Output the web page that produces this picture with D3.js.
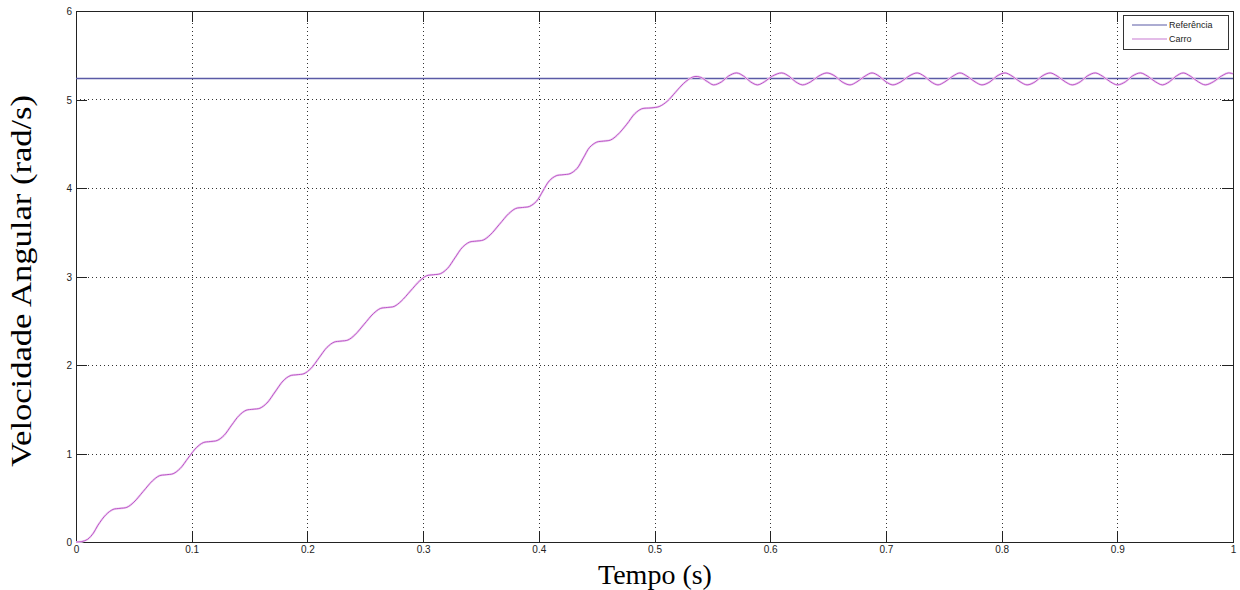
<!DOCTYPE html>
<html>
<head>
<meta charset="utf-8">
<script src="https://cdn.jsdelivr.net/npm/d3@7"></script>
<style>
  html, body { margin: 0; padding: 0; background: #fff; }
  svg { display: block; }
  .tick text { font-family: "Liberation Sans", Arial, sans-serif; font-size: 10px; fill: #222; }
</style>
</head>
<body>
<svg id="chart" width="1240" height="590"></svg>
<script>
// ---- data ----
const xTicks = [0, 0.1, 0.2, 0.3, 0.4, 0.5, 0.6, 0.7, 0.8, 0.9, 1];
const yTicks = [0, 1, 2, 3, 4, 5, 6];
const seriesNames = ["Referência", "Carro"];
const referenceValue = 5.236;

const carroTime = [
  0, 0.005, 0.010, 0.015, 0.019, 0.026,
  0.032, 0.038, 0.044, 0.050, 0.058, 0.066,
  0.072, 0.078, 0.084, 0.090, 0.097, 0.104,
  0.110, 0.116, 0.122, 0.128, 0.1345, 0.141,
  0.147, 0.153, 0.159, 0.165, 0.172, 0.179,
  0.185, 0.191, 0.197, 0.203, 0.210, 0.217,
  0.223, 0.229, 0.235, 0.241, 0.249, 0.257,
  0.263, 0.269, 0.275, 0.281, 0.289, 0.297,
  0.303, 0.309, 0.315, 0.321, 0.3275, 0.334,
  0.340, 0.346, 0.352, 0.358, 0.366, 0.374,
  0.380, 0.386, 0.392, 0.398, 0.4035, 0.409,
  0.415, 0.421, 0.427, 0.433, 0.4385, 0.444,
  0.450, 0.456, 0.462, 0.468, 0.476, 0.483,
  0.489, 0.497, 0.504, 0.511, 0.518, 0.525,
  0.531, 0.535, 0.540, 0.546,
  0.551, 0.558, 0.564, 0.571, 0.577, 0.583,
  0.589, 0.595, 0.602, 0.610, 0.616, 0.622,
  0.628, 0.635, 0.642, 0.649, 0.656, 0.662,
  0.669, 0.675, 0.682, 0.688, 0.694, 0.700,
  0.706, 0.713, 0.720, 0.727, 0.733, 0.739,
  0.745, 0.751, 0.758, 0.764, 0.770, 0.777,
  0.783, 0.790, 0.796, 0.803, 0.809, 0.816,
  0.822, 0.829, 0.835, 0.842, 0.848, 0.855,
  0.861, 0.868, 0.874, 0.881, 0.887, 0.894,
  0.900, 0.907, 0.913, 0.920, 0.926, 0.933,
  0.939, 0.945, 0.951, 0.957, 0.963, 0.970,
  0.976, 0.983, 0.990, 0.996, 1.0
];
const carroValue = [
  0, 0.005, 0.03, 0.10, 0.19, 0.31,
  0.368, 0.38, 0.392, 0.45, 0.57, 0.69,
  0.748, 0.76, 0.772, 0.83, 0.95, 1.065,
  1.123, 1.135, 1.147, 1.205, 1.32, 1.43,
  1.488, 1.50, 1.512, 1.57, 1.695, 1.82,
  1.878, 1.89, 1.902, 1.96, 2.08, 2.20,
  2.258, 2.27, 2.282, 2.34, 2.46, 2.58,
  2.638, 2.65, 2.662, 2.72, 2.835, 2.95,
  3.008, 3.02, 3.032, 3.09, 3.21, 3.33,
  3.388, 3.40, 3.412, 3.47, 3.59, 3.71,
  3.768, 3.78, 3.792, 3.85, 3.965, 4.08,
  4.138, 4.15, 4.162, 4.22, 4.34, 4.46,
  4.518, 4.53, 4.542, 4.60, 4.72, 4.84,
  4.895, 4.905, 4.92, 4.98, 5.08, 5.18,
  5.24, 5.26, 5.25, 5.20,
  5.165, 5.20, 5.265, 5.30, 5.265, 5.20,
  5.165, 5.20, 5.265, 5.30, 5.265, 5.20,
  5.165, 5.20, 5.265, 5.30, 5.265, 5.20,
  5.165, 5.20, 5.265, 5.30, 5.265, 5.20,
  5.165, 5.20, 5.265, 5.30, 5.265, 5.20,
  5.165, 5.20, 5.265, 5.30, 5.265, 5.20,
  5.165, 5.20, 5.265, 5.30, 5.265, 5.20,
  5.165, 5.20, 5.265, 5.30, 5.265, 5.20,
  5.165, 5.20, 5.265, 5.30, 5.265, 5.20,
  5.165, 5.20, 5.265, 5.30, 5.265, 5.20,
  5.165, 5.20, 5.265, 5.30, 5.265, 5.20,
  5.165, 5.20, 5.265, 5.30, 5.29
];

// ---- layout ----
const svg = d3.select("#chart");
const pL = 76, pR = 1233, pT = 11, pB = 542;
const x = d3.scaleLinear().domain([0, 1]).range([pL, pR]);
const y = d3.scaleLinear().domain([0, 6]).range([pB, pT]);

// grid
const grid = svg.append("g").attr("stroke", "#333").attr("stroke-width", 1)
  .attr("stroke-dasharray", "1,3").attr("shape-rendering", "crispEdges");
grid.selectAll("line.vx").data(xTicks.slice(1, -1)).join("line")
  .attr("x1", d => Math.round(x(d)) + 0.5).attr("x2", d => Math.round(x(d)) + 0.5)
  .attr("y1", pT).attr("y2", pB);
grid.selectAll("line.hy").data(yTicks.slice(1, -1)).join("line")
  .attr("y1", d => Math.round(y(d)) + 0.5).attr("y2", d => Math.round(y(d)) + 0.5)
  .attr("x1", pL).attr("x2", pR);

// axes (MATLAB style, ticks inward, box)
const tickLen = 11;
const xAxis = d3.axisBottom(x).tickValues(xTicks).tickFormat(d3.format("")).tickSizeInner(-tickLen).tickSizeOuter(0).tickPadding(4);
const yAxis = d3.axisLeft(y).tickValues(yTicks).tickFormat(d3.format("")).tickSizeInner(-tickLen).tickSizeOuter(0).tickPadding(4);
const gx = svg.append("g").attr("transform", `translate(0,${pB})`).call(xAxis);
const gy = svg.append("g").attr("transform", `translate(${pL},0)`).call(yAxis);
const gxTop = svg.append("g").attr("transform", `translate(0,${pT})`)
  .call(d3.axisTop(x).tickValues(xTicks).tickFormat("").tickSizeInner(-tickLen).tickSizeOuter(0));
const gyRight = svg.append("g").attr("transform", `translate(${pR},0)`)
  .call(d3.axisRight(y).tickValues(yTicks).tickFormat("").tickSizeInner(-tickLen).tickSizeOuter(0));
[gx, gy, gxTop, gyRight].forEach(g => {
  g.selectAll("path.domain").attr("stroke", "#222").attr("stroke-width", 1).attr("shape-rendering", "crispEdges");
  g.selectAll(".tick line").attr("stroke", "#222").attr("shape-rendering", "crispEdges");
});
gy.selectAll(".tick text").attr("dy", "0.35em");

// reference line
svg.append("line")
  .attr("x1", x(0)).attr("x2", x(1))
  .attr("y1", y(referenceValue)).attr("y2", y(referenceValue))
  .attr("stroke", "#5a5aa6").attr("stroke-width", 1.5);

// carro line
const carro = carroTime.map((t, i) => [t, carroValue[i]]);
const line = d3.line().x(d => x(d[0])).y(d => y(d[1])).curve(d3.curveCatmullRom.alpha(0.5));
svg.append("path").datum(carro)
  .attr("fill", "none").attr("stroke", "#efd2f2").attr("stroke-width", 2.2).attr("d", line);
svg.append("path").datum(carro)
  .attr("fill", "none").attr("stroke", "#b446c2").attr("stroke-width", 0.9).attr("d", line);

// legend
const lg = svg.append("g");
lg.append("rect").attr("x", 1123.5).attr("y", 15.5).attr("width", 105).attr("height", 34)
  .attr("fill", "#fff").attr("stroke", "#333").attr("stroke-width", 1);
const lgColors = ["#5a5aa6", "#c77ad2"];
seriesNames.forEach((name, i) => {
  const yy = 25 + i * 14;
  lg.append("line").attr("x1", 1132).attr("x2", 1167).attr("y1", yy).attr("y2", yy)
    .attr("stroke", lgColors[i]).attr("stroke-width", 1.2);
  lg.append("text").attr("x", 1169).attr("y", yy).attr("dy", "0.35em")
    .attr("font-family", "Liberation Sans, Arial, sans-serif").attr("font-size", 9)
    .attr("fill", "#222").text(name);
});

// axis titles
svg.append("text").attr("x", 655).attr("y", 584).attr("text-anchor", "middle")
  .attr("font-family", "Liberation Serif, Times New Roman, serif").attr("font-size", 28)
  .attr("fill", "#000").text("Tempo (s)");
svg.append("text").attr("transform", `translate(31,281) rotate(-90)`)
  .attr("text-anchor", "middle")
  .attr("font-family", "Liberation Serif, Times New Roman, serif").attr("font-size", 30)
  .attr("textLength", 372).attr("lengthAdjust", "spacingAndGlyphs")
  .attr("fill", "#000").text("Velocidade Angular (rad/s)");
</script>
</body>
</html>
